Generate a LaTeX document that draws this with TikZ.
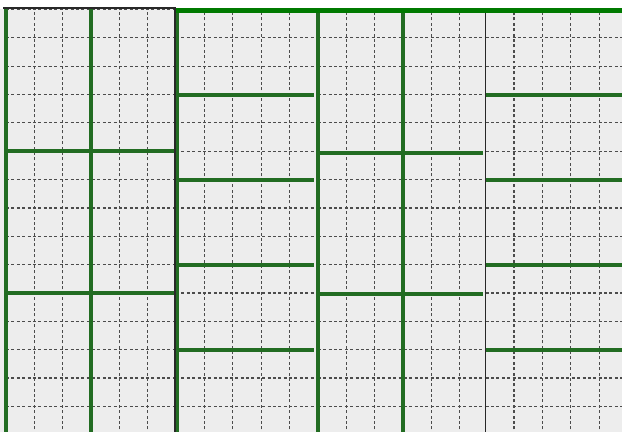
\documentclass[tikz,border=0pt]{standalone}
\usepackage{xcolor}
\usepackage{tikz}
\definecolor{tilegreen}{RGB}{34,108,34}
\definecolor{topgreen}{RGB}{0,122,0}
\definecolor{floorgray}{RGB}{237,237,237}
\definecolor{seamdark}{RGB}{40,40,40}
\tikzset{
  cellline/.style={black!70, line width=1.2pt, dash pattern=on 3pt off 2.4pt},
  tileedge/.style={tilegreen, line width=4pt},
  seam/.style={seamdark, line width=1.5pt},
}

\begin{document}
\begin{tikzpicture}[x=1cm,y=-1cm]
\useasboundingbox (-0.212,-0.335) rectangle (21.728,14.9);
\clip (-0.212,-0.335) rectangle (21.728,14.9);
\fill[white] (-0.212,-0.335) rectangle (21.728,14.9);
\fill[floorgray] (-0.212,0) rectangle (21.728,14.9);
% standing tiles, left block
\begin{scope}
\draw[cellline] (0,0) grid (6,15);
\draw[tileedge] (0,0) -- (0,15);
\draw[tileedge] (3,0) -- (3,15);
\draw[tileedge] (0,5) -- (6,5);
\draw[tileedge] (0,10) -- (6,10);
\draw[seam] (-0.1,-0.05) -- (6,-0.05);
\end{scope}
% lying tiles
\begin{scope}[xshift=6cm]
\draw[cellline] (0,0) grid (5,15);
\foreach \r in {3,6,9,12}
  \draw[tileedge] (0,\r) -- (4.85,\r);
\draw[tileedge] (0.04,0) -- (0.04,15);
\draw[seam] (-0.04,0) -- (-0.04,15);
\end{scope}
% standing tiles, shifted
\begin{scope}[xshift=11cm]
\draw[cellline] (0,0) grid (6,15);
\draw[tileedge] (0,0) -- (0,15);
\draw[tileedge] (3.02,0) -- (3.02,15);
\draw[tileedge] (0,5.05) -- (5.82,5.05);
\draw[tileedge] (0,10.05) -- (5.82,10.05);
\end{scope}
% lying tiles, right block
\begin{scope}[xshift=16.92cm]
\fill[floorgray] (0,0) rectangle (5.2,15);
\draw[cellline] (0,0) grid (5.2,15);
\foreach \r in {3,6,9,12}
  \draw[tileedge] (0,\r) -- (5.2,\r);
\draw[seam] (0,0) -- (0,15);
\end{scope}
\draw[topgreen, line width=5pt] (6,0.02) -- (21.8,0.02);
\end{tikzpicture}
\end{document}
